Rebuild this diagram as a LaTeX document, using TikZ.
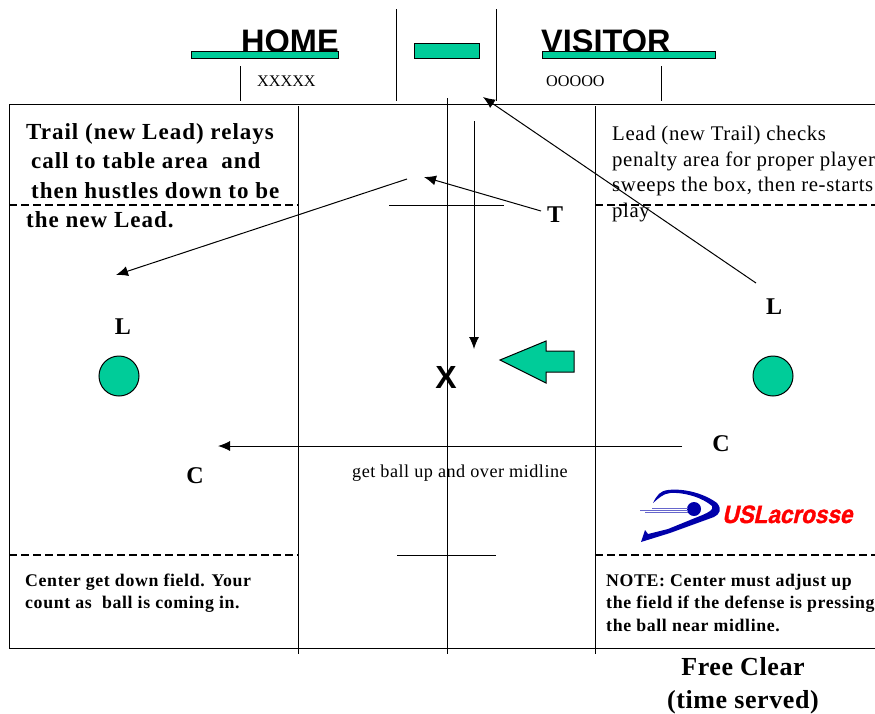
\documentclass[tikz,border=0pt]{standalone}
\usepackage{fontspec}
\setmainfont{Liberation Serif}
\newfontfamily\headfont{Liberation Sans}
\newfontfamily\logofont[BoldFeatures={FakeBold=1.5,FakeSlant=0.25}]{Liberation Sans}
\usetikzlibrary{arrows.meta}
\definecolor{teamgreen}{RGB}{0,204,153}
\definecolor{logoblue}{RGB}{0,0,170}
\tikzset{
    >={Latex[length=12pt,width=10pt]},
    fieldline/.style={black, line width=1pt},
    dashline/.style={fieldline, line width=1.4pt, dash pattern=on 8pt off 4pt},
    move/.style={->, black, line width=1pt},
    greenfill/.style={draw=black, fill=teamgreen, line width=1pt},
    official/.style={greenfill, shape=circle, minimum size=40pt, inner sep=0pt},
    heading/.style={anchor=base west, inner sep=0pt, font=\headfont\bfseries\fontsize{32.5}{32.5}\selectfont},
    letter/.style={anchor=base, inner sep=0pt, font=\bfseries\fontsize{24}{24}\selectfont},
    bignote/.style={anchor=base west, inner sep=0pt, font=\bfseries\fontsize{23}{23}\selectfont\addfontfeature{LetterSpace=4.4}},
    plainnote/.style={anchor=base west, inner sep=0pt, font=\fontsize{20.8}{20.8}\selectfont\addfontfeature{LetterSpace=3}},
    smallnote/.style={anchor=base west, inner sep=0pt, font=\bfseries\fontsize{17.8}{17.8}\selectfont\addfontfeature{LetterSpace=3.6}},
    small/.style={anchor=base west, inner sep=0pt, font=\fontsize{16.2}{16.2}\selectfont},
    midnote/.style={anchor=base west, inner sep=0pt, font=\fontsize{18.2}{18.2}\selectfont\addfontfeature{LetterSpace=2.7}},
    title/.style={anchor=base, inner sep=0pt, font=\bfseries\fontsize{26}{26}\selectfont\addfontfeature{LetterSpace=2.3}},
}
\begin{document}
\begin{tikzpicture}[x=1pt, y=-1pt]
    \useasboundingbox (0,0) rectangle (875,713);
    % bench and table
    \foreach \x/\a/\b in {240/66/101, 396/9/101, 496/9/101, 661/66/101}
        \draw[fieldline] (\x,\a) -- (\x,\b);
    \node[heading] (home) at (241,52.5) {HOME};
    \node[heading] (visitor) at (541,52.5) {VISITOR};
    \draw[greenfill] (191,51) rectangle (338,58);
    \draw[greenfill] (414,43) rectangle (479,58);
    \draw[greenfill] (542,51) rectangle (715,58);
    \node[small] (homebench) at (257,86) {XXXXX};
    \node[small] (visitorbench) at (546,86) {OOOOO};
    % field
    \draw[fieldline] (875,104) -- (9,104) -- (9,648) -- (875,648);
    \foreach \x/\a in {298/106, 447/98, 595/106}
        \draw[fieldline] (\x,\a) -- (\x,654);
    \foreach \y in {205,555} {
        \draw[dashline] (9,\y) -- (298,\y);
        \draw[dashline] (595,\y) -- (875,\y);
    };
    \draw[fieldline] (389,205) -- (504,205);
    \draw[fieldline] (397,555) -- (496,555);
    % officials and moves
    \node[official] (leadA) at (119,376) {};
    \node[official] (leadB) at (773,376) {};
    \node[letter] (L_new) at (123,334) {L};
    \node[letter] (L_old) at (774,314) {L};
    \node[letter] (T_old) at (555,222) {T};
    \node[letter] (C_new) at (195,483) {C};
    \node[letter] (C_old) at (721,451) {C};
    \node[letter, font=\headfont\bfseries\fontsize{32}{32}\selectfont] (ball) at (446,388) {X};
    \coordinate (tablespot) at (483,97);
    \coordinate (L_start) at (756,283);
    \coordinate (T_start) at (541,211);
    \coordinate (T_stop) at (424,177);
    \coordinate (T_next) at (407,179);
    \coordinate (L_stop) at (116,275);
    \coordinate (C_start) at (682,446);
    \coordinate (C_stop) at (218,446);
    \coordinate (ball_top) at (474,121);
    \coordinate (ball_stop) at (474,349);
    \foreach \a/\b in {L_start/tablespot, T_start/T_stop, T_next/L_stop, C_start/C_stop, ball_top/ball_stop}
        \draw[move] (\a) -- (\b);
    \draw[greenfill, line join=miter] (500,360) -- (546,341) -- (546,351) -- (574,351)
        -- (574,372) -- (546,372) -- (546,383) -- cycle;
    % notes
    \foreach \y/\x/\txt [count=\i] in {139/26/Trail (new Lead) relays, 168/31/call to table area\ \ and,
        198/31/then hustles down to be, 227/26/the new Lead.}
        \node[bignote] (trail\i) at (\x,\y) {\txt};
    \foreach \y/\x/\txt [count=\i] in {140/612/Lead (new Trail) checks, 166/612/penalty area for proper player,
        191/612/{sweeps the box, then re-starts}, 217/612/play}
        \node[plainnote] (lead\i) at (\x,\y) {\txt};
    \node[midnote] (midline) at (352,477) {get ball up and over midline};
    \foreach \y/\txt [count=\i] in {586/Center get down field. Your, 608/count as\ \ ball is coming in.}
        \node[smallnote] (center\i) at (25,\y) {\txt};
    \foreach \y/\txt [count=\i] in {586/NOTE: Center must adjust up, 608/the field if the defense is pressing,
        631/the ball near midline.}
        \node[smallnote] (adjust\i) at (606,\y) {\txt};
    \node[title] (title1) at (743,675) {Free Clear};
    \node[title] (title2) at (743,708) {(time served)};
    % logo
    \fill[logoblue] (653,503) .. controls (657,495) and (660,491) .. (668,490)
        .. controls (685,488) and (705,494) .. (717,503) .. controls (722,509) and (720,514) .. (714,517)
        -- (670,533) -- (641,542) -- (645,530) -- (648,534) -- (668,529) -- (695,518)
        .. controls (708,513) and (714,510) .. (712,506) .. controls (703,498) and (685,492) .. (670,493)
        .. controls (663,494) and (660,497) .. (653,503) -- cycle;
    \fill[logoblue] (694,509) circle (7);
    \foreach \y/\x in {508/652, 510/640, 512/645}
        \draw[logoblue!60, line width=0.8pt] (\x,\y) -- (688,\y);
    \node[anchor=base west, inner sep=0pt, text=red, xscale=0.9, transform shape,
        font=\logofont\bfseries\fontsize{25}{25}\selectfont] (logotext) at (722,523) {USLacrosse};
\end{tikzpicture}
\end{document}
